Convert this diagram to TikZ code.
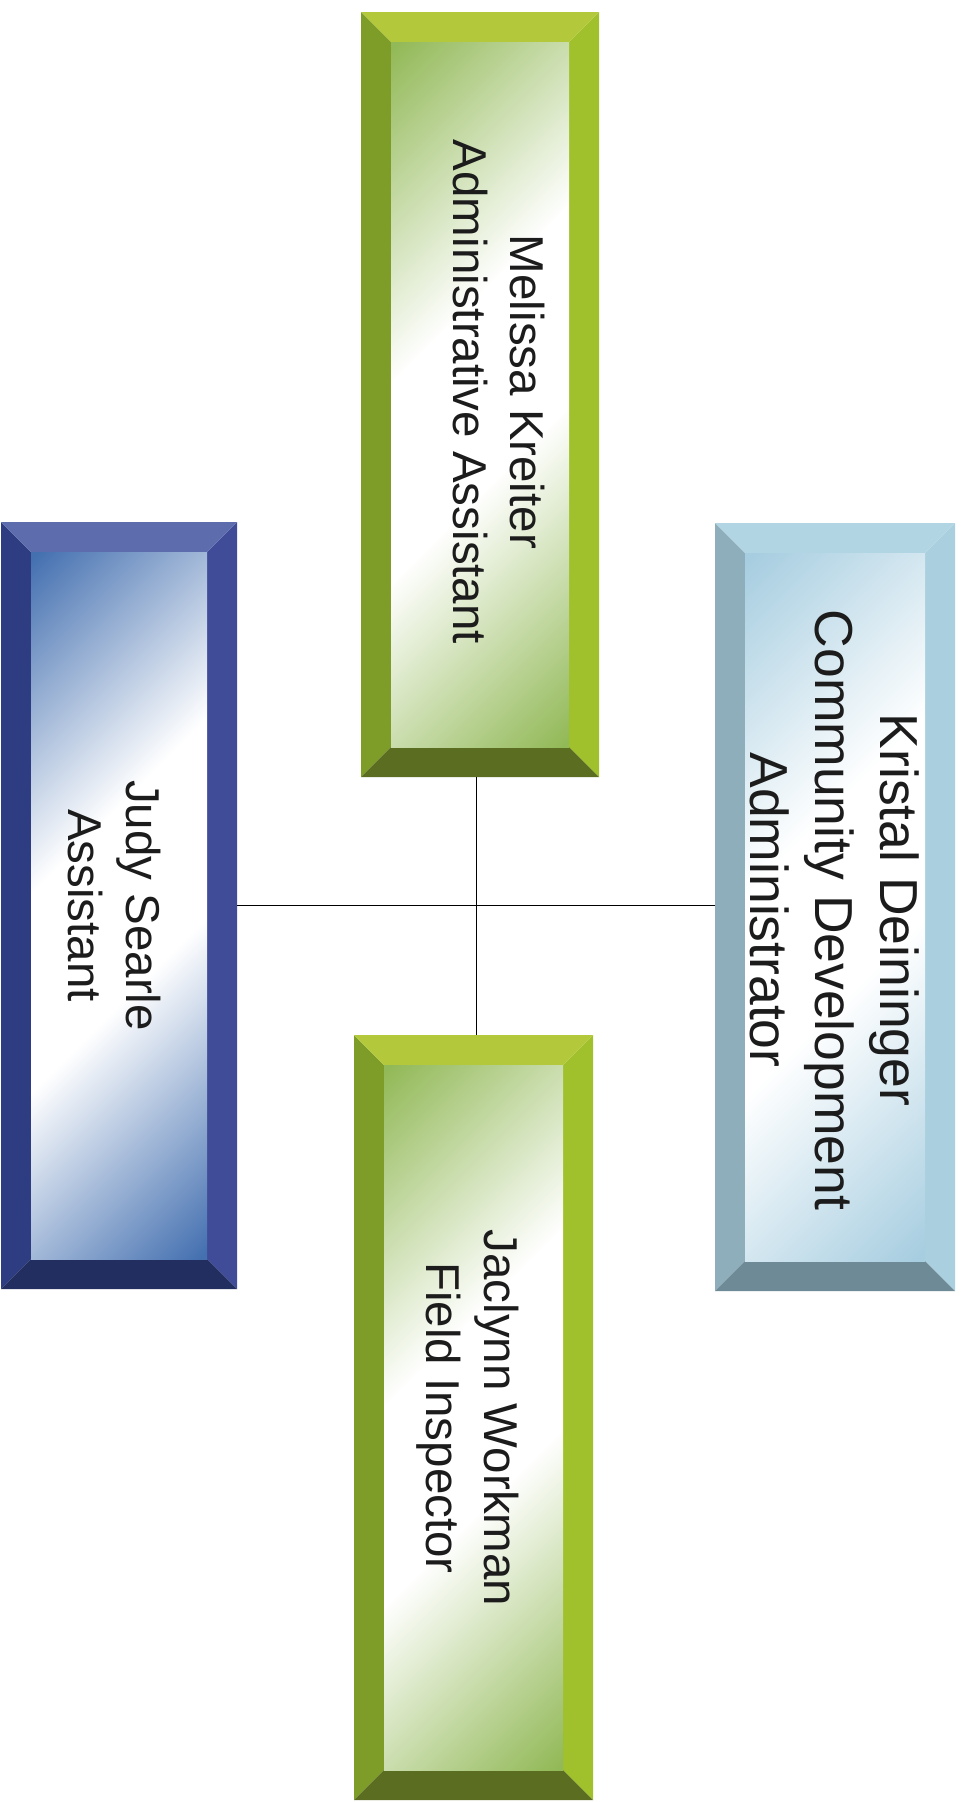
\documentclass[tikz,border=0pt]{standalone}
\usepackage{fontspec}
\setmainfont{Liberation Sans}
% green boxes
\definecolor{Gtop}{HTML}{B3C83A}
\definecolor{Gleft}{HTML}{7E9C28}
\definecolor{Gright}{HTML}{A0C02C}
\definecolor{Gbot}{HTML}{5B6D20}
\definecolor{Gin}{HTML}{92B957}
% dark blue box
\definecolor{Btop}{HTML}{5C6CAC}
\definecolor{Bleft}{HTML}{2E3D82}
\definecolor{Bright}{HTML}{404C98}
\definecolor{Bbot}{HTML}{212E5F}
\definecolor{Bin}{HTML}{4470B0}
% light blue box
\definecolor{Ltop}{HTML}{B2D5E3}
\definecolor{Lleft}{HTML}{8EAEBC}
\definecolor{Lright}{HTML}{AACFDE}
\definecolor{Lbot}{HTML}{6D8A96}
\definecolor{Lin}{HTML}{A6CDE0}
\definecolor{txt}{HTML}{1C1C1C}
\pgfdeclareverticalshading{bandG}{100bp}{color(0bp)=(Gin); color(15bp)=(Gin); color(42bp)=(white); color(58bp)=(white); color(85bp)=(Gin); color(100bp)=(Gin)}
\pgfdeclareverticalshading{bandB}{100bp}{color(0bp)=(Bin); color(15bp)=(Bin); color(42bp)=(white); color(58bp)=(white); color(85bp)=(Bin); color(100bp)=(Bin)}
\pgfdeclareverticalshading{bandL}{100bp}{color(0bp)=(Lin); color(15bp)=(Lin); color(42bp)=(white); color(58bp)=(white); color(85bp)=(Lin); color(100bp)=(Lin)}
\newcommand\bvw{30}
% #1 name, #2 cx, #3 cy, #4 width, #5 height, #6 colour prefix
\newcommand\bevbox[6]{%
  \node[boxnode, minimum width=#4pt, minimum height=#5pt] (#1) at (#2,#3) {};
  \coordinate (#1-a) at ([shift={(\bvw,\bvw)}]#1.north west);
  \coordinate (#1-b) at ([shift={(-\bvw,\bvw)}]#1.north east);
  \coordinate (#1-c) at ([shift={(-\bvw,-\bvw)}]#1.south east);
  \coordinate (#1-d) at ([shift={(\bvw,-\bvw)}]#1.south west);
  \fill[#6left] (#1.north west) -- (#1-a) -- (#1-d) -- (#1.south west) -- cycle;
  \fill[#6right] (#1.north east) -- (#1.south east) -- (#1-c) -- (#1-b) -- cycle;
  \fill[#6top] (#1.north west) -- (#1.north east) -- (#1-b) -- (#1-a) -- cycle;
  \fill[#6bot] (#1.south west) -- (#1-d) -- (#1-c) -- (#1.south east) -- cycle;
  \shade[shading=band#6, shading angle=45] (#1-a) rectangle (#1-c);
}
\tikzset{
  boxnode/.style={rectangle, draw=none, inner sep=0pt, outer sep=0pt},
  lbl/.style={rotate=-90, anchor=base, inner sep=0pt, text=txt,
    font=\fontsize{47.5}{57}\selectfont},
  lblbig/.style={lbl, font=\fontsize{53.5}{64}\selectfont},
  conn/.style={draw=black, line width=1.7pt}
}
\begin{document}
\begin{tikzpicture}[x=1pt, y=-1pt]
\fill[white] (0,0) rectangle (966,1802);
\useasboundingbox (0,0) rectangle (966,1802);

\bevbox{mel}{480}{394.5}{238}{765}{G}
\bevbox{jac}{473.5}{1417.5}{239}{765}{G}
\bevbox{judy}{119}{905.5}{236}{767}{B}
\bevbox{kris}{835}{907}{240}{768}{L}

\draw[conn] (judy.east) -- (judy.east -| kris.west);
\draw[conn] ([xshift=-3.5pt]mel.south) -- ([xshift=3pt]jac.north);

\node[lbl] (melA) at (510,392) {Melissa Kreiter};
\node[lbl] (melB) at (453,392) {Administrative Assistant};

\node[lbl] (jacA) at (484,1418) {Jaclynn Workman};
\node[lbl] (jacB) at (426,1418) {Field Inspector};

\node[lbl] (judyA) at (126,905.5) {Judy Searle};
\node[lbl] (judyB) at (68,905.5) {Assistant};

\node[lblbig] (krisA) at (880,910) {Kristal Deininger};
\node[lblbig] (krisB) at (815,910) {Community Development};
\node[lblbig] (krisC) at (750,910) {Administrator};
\end{tikzpicture}
\end{document}
